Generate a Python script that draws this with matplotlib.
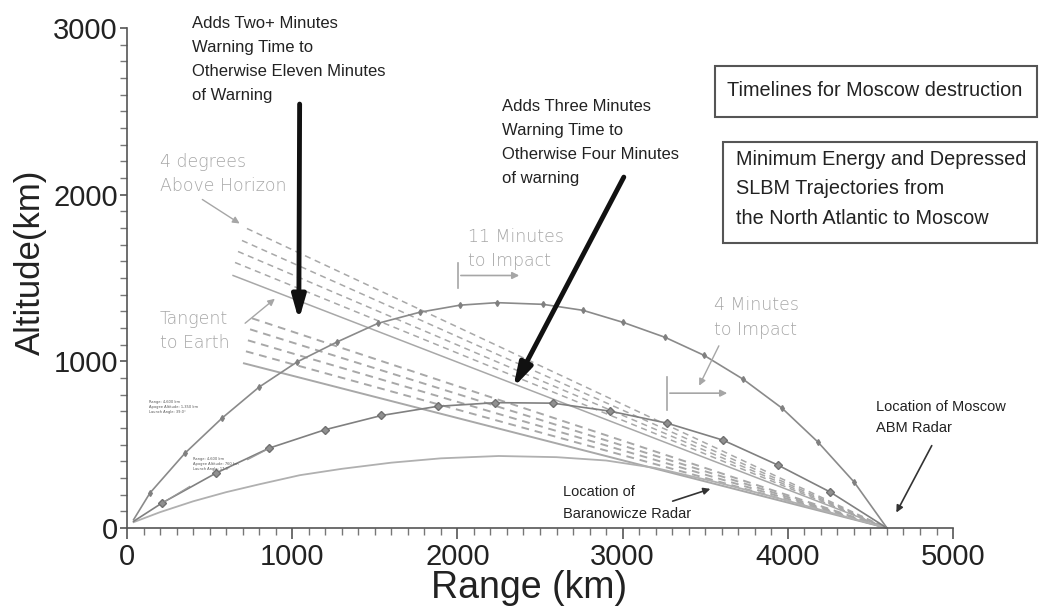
import matplotlib.pyplot as plt
from matplotlib.patches import Rectangle

NARROW = ['Liberation Sans Narrow', 'Liberation Sans', 'DejaVu Sans']
ARIAL = ['Liberation Sans', 'DejaVu Sans']

# Minimum energy trajectory (range km, altitude km)
min_energy_range = [40, 139, 351, 575, 799, 1029, 1271, 1519, 1774, 2016, 2240,
                    2518, 2760, 3002, 3257, 3493, 3729, 3965, 4183, 4401, 4600]
min_energy_alt = [50, 210, 449, 659, 845, 996, 1116, 1228, 1295, 1337, 1352,
                  1342, 1306, 1234, 1144, 1036, 893, 719, 515, 276, 0]

# Depressed trajectory
depressed_range = [40, 212, 540, 860, 1200, 1540, 1880, 2230, 2579, 2924,
                   3269, 3608, 3941, 4256, 4600]
depressed_alt = [40, 150, 330, 479, 590, 675, 730, 752, 749, 701,
                 629, 527, 377, 216, 0]

# Lowest trajectory
low_range = [40, 200, 400, 600, 800, 1047, 1300, 1600, 1900, 2250, 2600,
             2900, 3200, 3547, 3900, 4250, 4600]
low_alt = [35, 95, 160, 215, 262, 317, 355, 392, 418, 432, 425,
           405, 360, 280, 190, 95, 0]

# Lines of sight to Moscow ABM radar (start points; all end at the radar)
radar_pos = (4600, 0)
fan_upper_range = [726, 696, 672, 654, 642]
fan_upper_alt = [1797, 1725, 1659, 1593, 1515]
fan_lower_range = [757, 745, 732, 720, 708]
fan_lower_alt = [1258, 1192, 1126, 1060, 988]

fig = plt.figure(figsize=(10.44, 6.09), dpi=100)
ax = fig.add_axes([0.0979, 0.0509, 0.8941, 0.9442])
ax.set_xlim(-150, 5500)
ax.set_ylim(-300, 3150)

# fans
for fr, fa, lw in [(fan_upper_range, fan_upper_alt, 1.1), (fan_lower_range, fan_lower_alt, 1.4)]:
    for i, (r, a) in enumerate(zip(fr, fa)):
        ls = '-' if i == len(fr) - 1 else (0, (4, 3))
        ax.plot([r, radar_pos[0]], [a, radar_pos[1]], color='#a8a8a8', lw=lw, ls=ls)

# trajectories
ax.plot(low_range, low_alt, color='#b0b0b0', lw=1.3)
ax.plot(depressed_range, depressed_alt, color='#808080', lw=1.2,
        marker='D', ms=4.5, markevery=list(range(1, len(depressed_range) - 1)),
        mfc='#909090', mec='#707070')
ax.plot(min_energy_range, min_energy_alt, color='#8a8a8a', lw=1.2,
        marker='d', ms=3, markevery=list(range(1, len(min_energy_range) - 1)),
        mfc='#808080', mec='#808080')

# axes styling
for s in ['top', 'right']:
    ax.spines[s].set_visible(False)
ax.spines['left'].set_position(('data', 0))
ax.spines['bottom'].set_position(('data', 0))
ax.spines['left'].set_bounds(0, 3000)
ax.spines['bottom'].set_bounds(0, 5000)
for s in ['left', 'bottom']:
    ax.spines[s].set_color('#555555')
    ax.spines[s].set_linewidth(1.2)
ax.set_xticks([0, 1000, 2000, 3000, 4000, 5000])
ax.set_yticks([0, 1000, 2000, 3000])
ax.set_xticks(range(0, 5001, 100), minor=True)
ax.set_yticks(range(0, 3001, 100), minor=True)
ax.tick_params(which='major', width=1.2, color='#555555', direction='out',
               labelsize=21, labelcolor='#222222')
ax.tick_params(axis='x', which='major', length=8, pad=3)
ax.tick_params(axis='y', which='major', length=5, pad=1.5)
ax.tick_params(which='minor', length=5, width=1.0, color='#777777', direction='out')
for lab in ax.get_xticklabels() + ax.get_yticklabels():
    lab.set_family(NARROW)

fig.text(0.029, 0.570, 'Altitude(km)', rotation=90, ha='center', va='center',
         fontsize=25, family=NARROW, color='#222222')
fig.text(0.507, 0.034, 'Range (km)', ha='center', va='center',
         fontsize=27, family=NARROW, color='#222222')

# black annotations
ax.text(393, 3072, 'Adds Two+ Minutes\nWarning Time to\nOtherwise Eleven Minutes\nof Warning',
        ha='left', va='top', fontsize=12, family=NARROW, color='#222222',
        linespacing=1.75, clip_on=False)
ax.annotate('', xy=(1040, 1230), xytext=(1045, 2560),
            arrowprops=dict(arrowstyle='-|>,head_length=1.4,head_width=0.4', lw=3.5, color='#111111'))
ax.text(2270, 2574, 'Adds Three Minutes\nWarning Time to\nOtherwise Four Minutes\nof warning',
        ha='left', va='top', fontsize=12, family=NARROW, color='#222222', linespacing=1.75)
ax.annotate('', xy=(2330, 827), xytext=(3015, 2120),
            arrowprops=dict(arrowstyle='-|>,head_length=1.4,head_width=0.4', lw=3.5, color='#111111'))

# boxes
ax.add_patch(Rectangle((3559, 2466), 1949, 306, fill=False, ec='#555555', lw=1.5, clip_on=False))
ax.text(3632, 2622, 'Timelines for Moscow destruction', ha='left', va='center',
        fontsize=14.3, family=NARROW, color='#222222', clip_on=False)
ax.add_patch(Rectangle((3608, 1710), 1900, 606, fill=False, ec='#555555', lw=1.5, clip_on=False))
ax.text(3686, 2268, 'Minimum Energy and Depressed\nSLBM Trajectories from\nthe North Atlantic to Moscow',
        ha='left', va='top', fontsize=14.3, family=ARIAL, color='#222222',
        linespacing=1.7, clip_on=False)

# grey annotations
grey = '#a6a6a6'
gkw = dict(ha='left', va='top', fontsize=12.5, color=grey, fontweight='light', linespacing=1.45)
ax.text(200, 2250, '4 degrees\nAbove Horizon', **gkw)
ax.annotate('', xy=(696, 1818), xytext=(442, 1980),
            arrowprops=dict(arrowstyle='-|>', lw=1, color=grey))
ax.text(200, 1310, 'Tangent\nto Earth', **gkw)
ax.annotate('', xy=(908, 1386), xytext=(702, 1218),
            arrowprops=dict(arrowstyle='-|>', lw=1, color=grey))
ax.text(2064, 1800, '11 Minutes\nto Impact', **gkw)
ax.plot([2004, 2004], [1438, 1587], color=grey, lw=1.2)
ax.annotate('', xy=(2391, 1515), xytext=(2004, 1515),
            arrowprops=dict(arrowstyle='-|>', lw=1.2, color=grey))
ax.text(3553, 1390, '4 Minutes\nto Impact', **gkw)
ax.plot([3269, 3269], [707, 905], color=grey, lw=1.2)
ax.annotate('', xy=(3650, 809), xytext=(3269, 809),
            arrowprops=dict(arrowstyle='-|>', lw=1.2, color=grey))
ax.annotate('', xy=(3456, 839), xytext=(3590, 1108),
            arrowprops=dict(arrowstyle='-|>', lw=1, color=grey))

# radar labels
ax.text(4534, 768, 'Location of Moscow\nABM Radar', ha='left', va='top', fontsize=10.5,
        family=NARROW, color='#222222', linespacing=1.6, clip_on=False)
ax.annotate('', xy=(4649, 78), xytext=(4879, 509),
            arrowprops=dict(arrowstyle='-|>', lw=1.2, color='#333333'))
ax.text(2639, 258, 'Location of\nBaranowicze Radar', ha='left', va='top', fontsize=10.5,
        family=NARROW, color='#222222', linespacing=1.75)
ax.annotate('', xy=(3547, 240), xytext=(3287, 156),
            arrowprops=dict(arrowstyle='-|>', lw=1.2, color='#333333'))

# tiny trajectory notes
ax.text(133, 768, 'Range: 4,600 km\nApogee Altitude: 1,350 km\nLaunch Angle: 39.0\u00b0',
        ha='left', va='top', fontsize=2.6, color='#555555', linespacing=1.3)
ax.text(400, 426, 'Range: 4,600 km\nApogee Altitude: 760 km\nLaunch Angle: 17.0\u00b0',
        ha='left', va='top', fontsize=2.6, color='#555555', linespacing=1.3)
ax.plot([730, 847], [410, 470], color='#999999', lw=0.8)
ax.plot([380, 230], [250, 160], color='#999999', lw=0.8)

fig.savefig('out.png', dpi=100)
